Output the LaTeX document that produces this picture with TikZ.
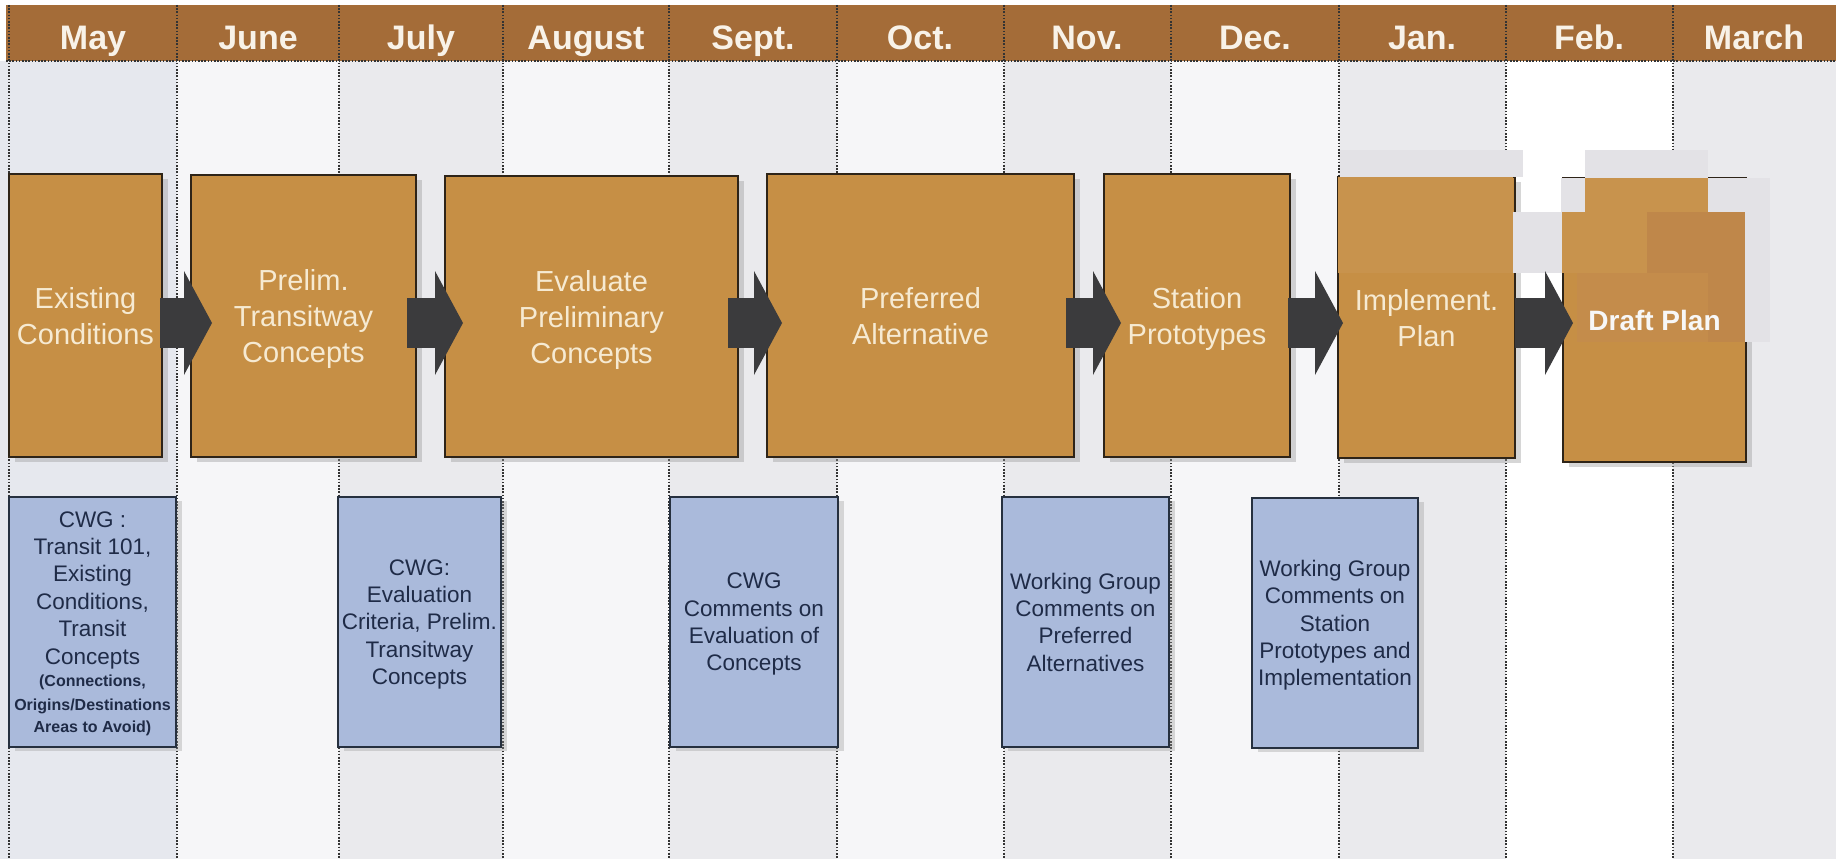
\documentclass[tikz,border=0pt]{standalone}
\usepackage{fontspec}
\setmainfont{Liberation Sans}
\usetikzlibrary{arrows.meta,shadows,calc}
\definecolor{hdr}{HTML}{A46C38}
\definecolor{hdrtxt}{HTML}{F8F2E8}
\definecolor{org}{HTML}{C68F45}
\definecolor{orgtxt}{HTML}{F6EAD2}
\definecolor{orgbd}{HTML}{2E2418}
\definecolor{orgP}{HTML}{C8934D}
\definecolor{orgQ}{HTML}{BF874A}
\definecolor{orgR}{HTML}{C48C4B}
\definecolor{blu}{HTML}{AABADB}
\definecolor{blubd}{HTML}{26303F}
\definecolor{blutxt}{HTML}{1F2B47}
\definecolor{arr}{HTML}{3B3B3D}
\definecolor{colM}{HTML}{E6E8EE}
\definecolor{colW}{HTML}{F6F6F8}
\definecolor{colG}{HTML}{EAEAED}
\definecolor{patch}{HTML}{E3E2E6}
\newcommand\smallbold{\fontsize{16}{21}\selectfont\bfseries}
\tikzset{
  hdrlabel/.style={text=hdrtxt, font=\fontsize{34}{38}\selectfont\bfseries, inner sep=0pt, anchor=base},
  phase/.style={draw=orgbd, line width=2pt, fill=org, text=orgtxt,
    font=\fontsize{29}{36}\selectfont, align=center, inner sep=0pt, outer sep=0pt, text depth=0pt,
    anchor=north west, drop shadow={shadow xshift=6pt, shadow yshift=-5pt, fill=black!40, opacity=0.4}},
  meeting/.style={draw=blubd, line width=2.5pt, fill=blu, text=blutxt,
    font=\fontsize{22.5}{27.4}\selectfont, align=center, inner sep=0pt, outer sep=0pt, text depth=0pt,
    anchor=north west, drop shadow={shadow xshift=6pt, shadow yshift=-4pt, fill=black!40, opacity=0.35}},
  flow/.style={draw=arr, line width=50pt, -{Triangle[length=28pt,width=104pt,line width=0pt,fill=arr]}},
  divider/.style={draw=black!80, line width=2pt, dash pattern=on 1.6pt off 1.6pt},
  patchgray/.style={fill=patch},
}
\begin{document}
\begin{tikzpicture}[x=1pt,y=-1pt]
\useasboundingbox (0,0) rectangle (1836,859);
\fill[white] (0,0) rectangle (1836,859);
% column backgrounds
\foreach \xa/\xb/\c in {0/177/colM,177/339/colW,339/503/colG,503/669/colW,669/837/colG,837/1004/colW,1004/1171/colG,1171/1339/colW,1339/1506/colG,1506/1673/white,1673/1836/colG}
  \fill[\c] (\xa,61) rectangle (\xb,859);
% header band
\fill[hdr] (6,5) rectangle (1836,61);
\draw[divider] (6,61) -- (1836,61);
\foreach \x in {9,177,339,503,669,837,1004,1171,1339,1506,1673}
  \draw[divider] (\x,5) -- (\x,859);
% month labels
\node[hdrlabel] (h1) at (93,49) {May};
\node[hdrlabel] (h2) at (258,49) {June};
\node[hdrlabel] (h3) at (421,49) {July};
\node[hdrlabel] (h4) at (586,49) {August};
\node[hdrlabel] (h5) at (753,49) {Sept.};
\node[hdrlabel] (h6) at (920,49) {Oct.};
\node[hdrlabel] (h7) at (1087,49) {Nov.};
\node[hdrlabel] (h8) at (1255,49) {Dec.};
\node[hdrlabel] (h9) at (1422,49) {Jan.};
\node[hdrlabel] (h10) at (1589,49) {Feb.};
\node[hdrlabel] (h11) at (1754,49) {March};
% phase boxes
\node[phase, minimum width=153pt, minimum height=283pt] (e1) at (9,174) {Existing\\Conditions};
\node[phase, minimum width=225pt, minimum height=282pt] (e2) at (191,175) {Prelim.\\Transitway\\Concepts};
\node[phase, minimum width=293pt, minimum height=281pt] (e3) at (445,176) {Evaluate\\Preliminary\\Concepts};
\node[phase, minimum width=307pt, minimum height=283pt] (e4) at (767,174) {Preferred\\Alternative};
\node[phase, minimum width=186pt, minimum height=283pt] (e5) at (1104,174) {Station\\Prototypes};
\node[phase, minimum width=177pt, minimum height=281pt] (e6) at (1338,177) {Implement.\\Plan};
\node[phase, minimum width=183pt, minimum height=284pt, text=white!94!gray,
  font=\fontsize{28}{34}\selectfont\bfseries,
  path picture={
    \fill[orgR] ($(path picture bounding box.north west)+(14,95)$) rectangle ($(path picture bounding box.north west)+(145,164)$);
    \fill[orgQ] ($(path picture bounding box.north west)+(145,95)$) rectangle ($(path picture bounding box.north west)+(183,164)$);
  }] (e7) at (1563,178) {Draft Plan};
% flat patches over the Jan./Feb. boxes
\fill[orgP] (1338,177) rectangle (1513,273);
\fill[patchgray] (1340,150) rectangle (1523,177);
\fill[patchgray] (1513,212) rectangle (1562,273);
\fill[patchgray] (1585,150) rectangle (1708,178);
\fill[patchgray] (1561,178) rectangle (1585,212);
\fill[patchgray] (1708,178) rectangle (1770,212);
\fill[patchgray] (1745,212) rectangle (1770,342);
\fill[orgP] (1585,178) rectangle (1708,212);
\fill[orgP] (1562,212) rectangle (1647,273);
\fill[orgQ] (1647,212) rectangle (1745,273);
% meeting boxes
\node[meeting, minimum width=167pt, minimum height=250pt] (b1) at (9,497)
  {CWG :\\Transit 101,\\Existing\\Conditions,\\Transit\\Concepts\\[-4.5pt]\smallbold (Connections,\\[-4pt]\smallbold Origins/Destinations\\[-5pt]\smallbold Areas to Avoid)};
\node[meeting, minimum width=163pt, minimum height=250pt] (b2) at (338,497)
  {CWG:\\Evaluation\\Criteria, Prelim.\\Transitway\\Concepts};
\node[meeting, minimum width=168pt, minimum height=250pt] (b3) at (670,497)
  {CWG\\Comments on\\Evaluation of\\Concepts};
\node[meeting, minimum width=167pt, minimum height=250pt] (b4) at (1002,497)
  {Working Group\\Comments on\\Preferred\\Alternatives};
\node[meeting, minimum width=166pt, minimum height=250pt] (b5) at (1252,498)
  {Working Group\\Comments on\\Station\\Prototypes and\\Implementation};
% block arrows
\draw[flow] ([xshift=-2pt,yshift=-7.5pt]e1.east) -- ([xshift=21pt,yshift=-7pt]e2.west);
\draw[flow] ([xshift=-9pt,yshift=-7pt]e2.east) -- ([xshift=18pt,yshift=-6.5pt]e3.west);
\draw[flow] ([xshift=-10pt,yshift=-6.5pt]e3.east) -- ([xshift=15pt,yshift=-7.5pt]e4.west);
\draw[flow] ([xshift=-8pt,yshift=-7.5pt]e4.east) -- ([xshift=17pt,yshift=-7.5pt]e5.west);
\draw[flow] ([xshift=-2pt,yshift=-7.5pt]e5.east) -- ([xshift=5pt,yshift=-5.5pt]e6.west);
\draw[flow] ([xshift=0pt,yshift=-5.5pt]e6.east) -- ([xshift=10pt,yshift=-3pt]e7.west);
\end{tikzpicture}
\end{document}
